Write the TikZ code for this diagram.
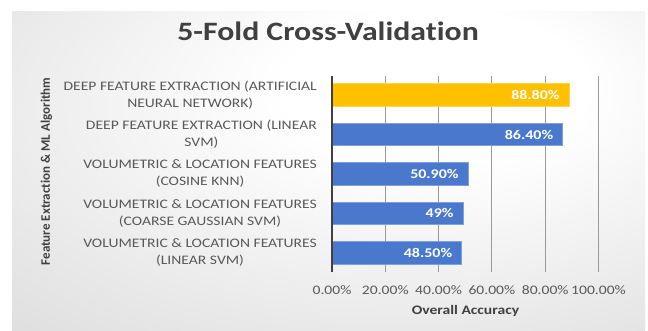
\documentclass[tikz,border=0pt]{standalone}
\usepackage{fontspec}
% chart text is set slightly widened; the rotated axis title uses the plain width
\setmainfont[FakeStretch=1.2, Ligatures=NoCommon, RawFeature={-calt;-clig;-dlig}]{Carlito}
\newfontfamily\plainfont[Ligatures=NoCommon, RawFeature={-calt;-clig;-dlig}]{Carlito}
% keeps "t" and "i" as separate glyphs
\newcommand{\tsep}{t\kern0pt i}
\definecolor{barblue}{HTML}{4A78CC}
\definecolor{barorange}{HTML}{FFC000}
\definecolor{labelgray}{HTML}{595959}
\definecolor{titlegray}{HTML}{404040}
\definecolor{gridgray}{HTML}{9A9A9A}
% soft radial glow behind the chart, brightest near the upper middle
\pgfdeclareradialshading{panelglow}{\pgfpoint{10bp}{16bp}}{%
  color(0bp)=(white); color(12bp)=(white); color(42bp)=(black!12); color(75bp)=(black!23)}
\tikzset{
  barbox/.style={rectangle, inner sep=0pt, minimum height=22.5pt, anchor=west, draw=white!30!#1, line width=0.6pt, fill=#1},
  datalabel/.style={text=white, font=\fontsize{13.3}{16}\selectfont\bfseries, inner sep=0pt, anchor=base east},
  catlabel/.style={text=labelgray, font=\fontsize{13}{16.7}\selectfont, align=center, inner sep=0pt, anchor=east},
  ticklabel/.style={text=labelgray, font=\fontsize{13}{16}\selectfont, inner sep=0pt, anchor=base},
  axtitle/.style={text=titlegray, font=\fontsize{13}{15}\selectfont\bfseries, inner sep=0pt},
  charttitle/.style={text=titlegray, font=\fontsize{26.5}{30}\selectfont\bfseries, inner sep=0pt, anchor=base},
  gridline/.style={draw=gridgray, line width=0.9pt},
  axisline/.style={draw=titlegray, line width=1.8pt}
}
\begin{document}
\begin{tikzpicture}[x=1pt, y=-1pt]
  \useasboundingbox (0,0) rectangle (648,331);
  \fill[white] (0,0) rectangle (648,331);
  \shade[shading=panelglow] (12,12) rectangle (645,331);

  % title
  \node[charttitle] (title) at (328,41) {5-Fold Cross-Valida\tsep on};

  % vertical grid lines at 20% steps
  \foreach \k in {1,...,5}
    \draw[gridline] ({332+53.3*\k},76) -- ({332+53.3*\k},272);

  % bars (value in percent, 2.665pt per percent)
  \node[barbox=barorange, minimum width={88.8*2.665pt}] (b1) at (332,95.0) {};
  \node[barbox=barblue,   minimum width={86.4*2.665pt}] (b2) at (332,134.4) {};
  \node[barbox=barblue,   minimum width={50.9*2.665pt}] (b3) at (332,173.8) {};
  \node[barbox=barblue,   minimum width={49.0*2.665pt}] (b4) at (332,213.2) {};
  \node[barbox=barblue,   minimum width={48.5*2.665pt}] (b5) at (332,252.6) {};

  % value labels inside the bar ends
  \node[datalabel] (v1) at ([xshift=-9.5pt, yshift=-4.8pt]b1.east) {88.80\%};
  \node[datalabel] (v2) at ([xshift=-9.5pt, yshift=-4.8pt]b2.east) {86.40\%};
  \node[datalabel] (v3) at ([xshift=-9.5pt, yshift=-4.8pt]b3.east) {50.90\%};
  \node[datalabel] (v4) at ([xshift=-9.5pt, yshift=-4.8pt]b4.east) {49\%};
  \node[datalabel] (v5) at ([xshift=-9.5pt, yshift=-4.8pt]b5.east) {48.50\%};

  % category axis line
  \draw[axisline] (332,76) -- (332,272);

  % category labels
  \node[catlabel] (c1) at (317,95.0)  {DEEP FEATURE EXTRACTION (ARTIFICIAL\\NEURAL NETWORK)};
  \node[catlabel] (c2) at (317,134.4) {DEEP FEATURE EXTRACTION (LINEAR\\SVM)};
  \node[catlabel] (c3) at (317,173.8) {VOLUMETRIC \& LOCATION FEATURES\\(COSINE KNN)};
  \node[catlabel] (c4) at (317,213.2) {VOLUMETRIC \& LOCATION FEATURES\\(COARSE GAUSSIAN SVM)};
  \node[catlabel] (c5) at (317,252.6) {VOLUMETRIC \& LOCATION FEATURES\\(LINEAR SVM)};

  % value axis tick labels
  \foreach \k/\t in {0/0.00, 1/20.00, 2/40.00, 3/60.00, 4/80.00, 5/100.00}
    \node[ticklabel] (t\k) at ({332+53.3*\k},294.3) {\t\%};

  % axis titles
  \node[axtitle] (xtitle) at (465.5,310.7) {Overall Accuracy};
  \node[axtitle, font=\fontsize{13}{15}\selectfont\plainfont\bfseries, rotate=90] (ytitle) at (46.5,171.5) {Feature Extrac\tsep on \& ML Algorithm};
\end{tikzpicture}
\end{document}
